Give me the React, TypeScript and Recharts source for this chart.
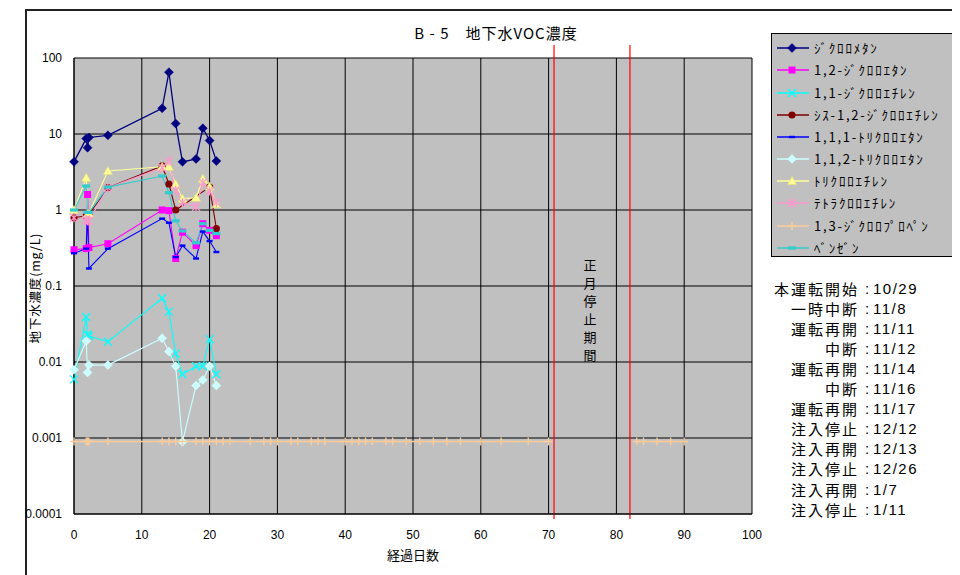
import React from 'react';
import { LineChart, Line, XAxis, YAxis, CartesianGrid, ReferenceLine } from 'recharts';

// ---- data ----
const earlyDays = [0, 1.8, 2, 2.2, 5, 13, 14, 15, 16, 18, 19, 20, 21];
const dichloromethane = [4.3, 8.7, 6.6, 9.0, 9.6, 21.8, 65, 13.7, 4.3, 4.7, 11.9, 8.2, 4.4];
const dca12 = [0.3, 0.31, 1.6, 0.32, 0.36, 1.0, 0.98, 0.23, 0.51, 0.34, 0.66, 0.54, 0.46];
const dce11 = [0.0059, 0.039, 0.023, 0.022, 0.0185, 0.069, 0.046, 0.0129, 0.0069, 0.0088, 0.0088, 0.02, 0.0069];
const cisDce12 = [0.79, 0.84, 0.86, 0.88, 1.97, 3.8, 2.2, 1.0, null, null, null, 2.0, 0.57];
const tca111 = [0.27, 0.31, 0.9, 0.17, 0.31, 0.77, 0.68, 0.24, 0.34, 0.23, 0.52, 0.39, 0.28];
const tca112 = [0.0079, 0.0189, 0.0073, 0.0091, 0.0091, 0.0205, 0.0137, 0.0088, 0.00089, 0.0049, 0.0058, 0.0088, 0.0049];
const tce = [1.0, 2.66, 0.88, 0.9, 3.26, 3.7, 3.7, 2.18, 1.41, 1.45, 2.58, 2.03, 1.19];
const pce = [0.79, 0.75, 0.72, 0.72, 1.97, 3.6, 4.4, 1.82, 1.25, 1.1, 2.29, 1.78, 1.25];
const benzene = [1.0, 2.07, 0.93, 0.93, 2.0, 2.8, 1.69, 0.72, 0.53, 0.37, 0.66, 0.54, 0.49];

const dcpDays = [0, 1.8, 2, 2.2, 5, 13, 14, 15, 16, 18, 19, 20, 21, 22, 23, 26, 28, 29, 30, 32, 33, 35, 36, 37,
  40, 41, 42, 43, 44, 46, 47, 49, 51, 53, 55, 57, 60, 63, 67, 70, 76, 83, 84, 86, 88, 90];
const dcp13 = [0.0009, 0.0009, 0.0009, 0.0009, 0.0009, 0.0009, 0.0009, 0.0009, 0.0009, 0.0009, 0.0009, 0.0009,
  0.0009, 0.0009, 0.0009, 0.0009, 0.0009, 0.0009, 0.0009, 0.0009, 0.0009, 0.0009, 0.0009, 0.0009, 0.0009,
  0.0009, 0.0009, 0.0009, 0.0009, 0.0009, 0.0009, 0.0009, 0.0009, 0.0009, 0.0009, 0.0009, 0.0009, 0.0009,
  0.0009, 0.0009, null, 0.0009, 0.0009, 0.0009, 0.0009, 0.0009];

const xTicks = [0, 10, 20, 30, 40, 50, 60, 70, 80, 90, 100];
const yTicks = [0.0001, 0.001, 0.01, 0.1, 1, 10, 100];
const yTickLabels = ['0.0001', '0.001', '0.01', '0.1', '1', '10', '100'];

const pauseStart = 70.8;
const pauseEnd = 82;

const scheduleLabels = ['本運転開始', '一時中断', '運転再開', '中断', '運転再開', '中断', '運転再開', '注入停止', '注入再開', '注入停止', '注入再開', '注入停止'];
const scheduleDates = ['10/29', '11/8', '11/11', '11/12', '11/14', '11/16', '11/17', '12/12', '12/13', '12/26', '1/7', '1/11'];

type Shape = 'diamond' | 'square' | 'x' | 'circle' | 'dash' | 'lightdiamond' | 'triangle' | 'star' | 'plus' | 'bar';

const series: { key: string; name: string; days: number[]; values: (number | null)[]; color: string; shape: Shape }[] = [
  { key: 's1', name: 'ｼﾞｸﾛﾛﾒﾀﾝ', days: earlyDays, values: dichloromethane, color: '#000080', shape: 'diamond' },
  { key: 's2', name: '1,2-ｼﾞｸﾛﾛｴﾀﾝ', days: earlyDays, values: dca12, color: '#FF00FF', shape: 'square' },
  { key: 's3', name: '1,1-ｼﾞｸﾛﾛｴﾁﾚﾝ', days: earlyDays, values: dce11, color: '#00FFFF', shape: 'x' },
  { key: 's4', name: 'ｼｽ-1,2-ｼﾞｸﾛﾛｴﾁﾚﾝ', days: earlyDays, values: cisDce12, color: '#800000', shape: 'circle' },
  { key: 's5', name: '1,1,1-ﾄﾘｸﾛﾛｴﾀﾝ', days: earlyDays, values: tca111, color: '#0000FF', shape: 'dash' },
  { key: 's6', name: '1,1,2-ﾄﾘｸﾛﾛｴﾀﾝ', days: earlyDays, values: tca112, color: '#CCFFFF', shape: 'lightdiamond' },
  { key: 's7', name: 'ﾄﾘｸﾛﾛｴﾁﾚﾝ', days: earlyDays, values: tce, color: '#FFFF99', shape: 'triangle' },
  { key: 's8', name: 'ﾃﾄﾗｸﾛﾛｴﾁﾚﾝ', days: earlyDays, values: pce, color: '#FF99CC', shape: 'star' },
  { key: 's9', name: '1,3-ｼﾞｸﾛﾛﾌﾟﾛﾍﾟﾝ', days: dcpDays, values: dcp13, color: '#FFCC99', shape: 'plus' },
  { key: 's10', name: 'ﾍﾞﾝｾﾞﾝ', days: earlyDays, values: benzene, color: '#33CCCC', shape: 'bar' },
];

// build table for the chart
const allDays = Array.from(new Set(series.flatMap((s) => s.days))).sort((a, b) => a - b);
const rows = allDays.map((d) => {
  const row: Record<string, number | null> = { day: d };
  series.forEach((s) => {
    const i = s.days.indexOf(d);
    row[s.key] = i >= 0 ? s.values[i] : null;
  });
  return row;
});

function Marker({ shape, cx, cy, color }: { shape: Shape; cx: number; cy: number; color: string }) {
  switch (shape) {
    case 'diamond':
    case 'lightdiamond': {
      const r = 4.5;
      return <polygon points={`${cx},${cy - r} ${cx + r},${cy} ${cx},${cy + r} ${cx - r},${cy}`} fill={color} stroke={color} strokeWidth={0.5} />;
    }
    case 'square':
      return <rect x={cx - 3.5} y={cy - 3.5} width={7} height={7} fill={color} />;
    case 'x':
      return (
        <g stroke={color} strokeWidth={1.3}>
          <line x1={cx - 4} y1={cy - 4} x2={cx + 4} y2={cy + 4} />
          <line x1={cx - 4} y1={cy + 4} x2={cx + 4} y2={cy - 4} />
        </g>
      );
    case 'circle':
      return <circle cx={cx} cy={cy} r={3.6} fill={color} />;
    case 'dash':
      return <rect x={cx - 3} y={cy - 1.2} width={6} height={2.4} fill={color} />;
    case 'triangle':
      return <polygon points={`${cx},${cy - 4.5} ${cx + 4.5},${cy + 3.5} ${cx - 4.5},${cy + 3.5}`} fill={color} stroke="#E6E070" strokeWidth={0.6} />;
    case 'star':
      return (
        <g stroke={color} strokeWidth={1.3}>
          <line x1={cx - 4} y1={cy - 4} x2={cx + 4} y2={cy + 4} />
          <line x1={cx - 4} y1={cy + 4} x2={cx + 4} y2={cy - 4} />
          <line x1={cx} y1={cy - 4.5} x2={cx} y2={cy + 4.5} />
        </g>
      );
    case 'plus':
      return (
        <g stroke={color} strokeWidth={1.4}>
          <line x1={cx} y1={cy - 4} x2={cx} y2={cy + 4} />
          <line x1={cx - 4} y1={cy} x2={cx + 4} y2={cy} />
        </g>
      );
    case 'bar':
      return <rect x={cx - 4} y={cy - 1.6} width={8} height={3.2} fill={color} />;
    default:
      return null;
  }
}

const makeDot = (shape: Shape, color: string) => (props: any) => {
  const { cx, cy, value, index } = props;
  if (cx == null || cy == null || value == null || (Array.isArray(value) && value[1] == null)) {
    return <g key={`e-${index}`} />;
  }
  return (
    <g key={`d-${index}`}>
      <Marker shape={shape} cx={cx} cy={cy} color={color} />
    </g>
  );
};

const tickFont = { fill: '#000', fontSize: 12, fontFamily: '"Liberation Sans", Arial, sans-serif' };
const jpFont = '"Noto Sans CJK JP", "Liberation Sans", sans-serif';

export default function App() {
  return (
    <div style={{ position: 'relative', width: 952, height: 567, background: '#fff', overflow: 'hidden' }}>
      {/* outer chart frame */}
      <div style={{ position: 'absolute', left: 17, top: 1, width: 960, height: 600, borderLeft: '2px solid #222', borderTop: '2px solid #222' }} />

      <div style={{ position: 'absolute', left: 0, top: 0 }}>
        <LineChart width={952} height={567} data={rows} margin={{ top: 50, right: 208, bottom: 31, left: 0 }}>
          <CartesianGrid stroke="#000" strokeWidth={1} fill="#C0C0C0" fillOpacity={1} />
          <XAxis
            dataKey="day"
            type="number"
            domain={[0, 100]}
            ticks={xTicks}
            tickLine={false}
            tickSize={0}
            tickMargin={16}
            axisLine={{ stroke: '#000' }}
            tick={tickFont}
            height={30}
            interval={0}
          />
          <YAxis
            scale="log"
            domain={[0.0001, 100]}
            ticks={yTicks}
            tickFormatter={(v: number) => yTickLabels[yTicks.indexOf(v)] ?? String(v)}
            tickLine={false}
            tickSize={0}
            tickMargin={12}
            axisLine={{ stroke: '#000' }}
            tick={tickFont}
            width={66}
            interval={0}
          />
          <ReferenceLine
            segment={[{ x: pauseStart, y: 148 }, { x: pauseStart, y: 0.000086 }]}
            stroke="#FF0000"
            strokeWidth={1.2}
            ifOverflow="visible"
          />
          <ReferenceLine
            segment={[{ x: pauseEnd, y: 148 }, { x: pauseEnd, y: 0.000086 }]}
            stroke="#FF0000"
            strokeWidth={1.2}
            ifOverflow="visible"
          />
          {series.map((s) => (
            <Line
              key={s.key}
              type="linear"
              dataKey={s.key}
              name={s.name}
              stroke={s.color}
              strokeWidth={s.key === 's1' ? 1.3 : s.key === 's9' ? 1.6 : 1.1}
              dot={makeDot(s.shape, s.color)}
              activeDot={false}
              connectNulls={s.key !== 's9'}
              isAnimationActive={false}
            />
          ))}
        </LineChart>
      </div>

      {/* title */}
      <div style={{ position: 'absolute', left: 338, top: 14, width: 300, textAlign: 'center', fontFamily: jpFont, fontSize: 15, letterSpacing: 1, color: '#000', lineHeight: '22px' }}>
        B - 5　地下水VOC濃度
      </div>

      {/* y axis label */}
      <div style={{ position: 'absolute', left: 27 - 80, top: 280 - 10, width: 160, height: 20, lineHeight: '20px', textAlign: 'center', transform: 'rotate(-90deg)', fontFamily: jpFont, fontSize: 12.5, letterSpacing: 0.8, color: '#000' }}>
        地下水濃度(mg/L)
      </div>

      {/* x axis label */}
      <div style={{ position: 'absolute', left: 405 - 60, top: 547 - 10, width: 120, height: 20, lineHeight: '20px', textAlign: 'center', fontFamily: jpFont, fontSize: 13, color: '#000' }}>
        経過日数
      </div>

      {/* pause period label */}
      <div style={{ position: 'absolute', left: 582 - 10, top: 248, width: 20, fontFamily: jpFont, fontSize: 13, color: '#000', textAlign: 'center' }}>
        {'正月停止期間'.split('').map((c, i) => (
          <div key={i} style={{ height: 18, lineHeight: '18px' }}>{c}</div>
        ))}
      </div>

      {/* legend */}
      <div style={{ position: 'absolute', left: 763, top: 25, width: 183, height: 224, background: '#C0C0C0', border: '1px solid #000', boxSizing: 'border-box' }}>
        {series.map((s, i) => (
          <div key={s.key} style={{ position: 'absolute', left: 0, top: 14.3 + 22.15 * i - 11, height: 22, width: 183 }}>
            <svg width={40} height={22} style={{ position: 'absolute', left: 0, top: 0 }}>
              <line x1={5} y1={11} x2={37} y2={11} stroke={s.color} strokeWidth={1.5} />
              <Marker shape={s.shape} cx={20} cy={11} color={s.color} />
            </svg>
            <div style={{ position: 'absolute', left: 42, top: 0, height: 22, lineHeight: '22px', fontFamily: jpFont, fontSize: 13, letterSpacing: 1.8, color: '#000', whiteSpace: 'nowrap' }}>
              {s.name}
            </div>
          </div>
        ))}
      </div>

      {/* schedule notes */}
      {scheduleLabels.map((lab, i) => {
        const top = 281 + 20.05 * i - 10;
        return (
          <React.Fragment key={i}>
            <div style={{ position: 'absolute', left: 851 - 140, top, width: 140, height: 20, lineHeight: '20px', textAlign: 'right', fontFamily: jpFont, fontSize: 15, letterSpacing: 2, marginRight: -2, color: '#000', whiteSpace: 'nowrap' }}>
              {lab}
            </div>
            <div style={{ position: 'absolute', left: 855, top, width: 8, height: 20, lineHeight: '20px', textAlign: 'center', fontFamily: '"Liberation Sans", sans-serif', fontSize: 15, color: '#000' }}>
              :
            </div>
            <div style={{ position: 'absolute', left: 865, top, height: 20, lineHeight: '20px', fontFamily: '"Liberation Sans", sans-serif', fontSize: 15, letterSpacing: 1.5, color: '#000', whiteSpace: 'nowrap' }}>
              {scheduleDates[i]}
            </div>
          </React.Fragment>
        );
      })}
    </div>
  );
}
